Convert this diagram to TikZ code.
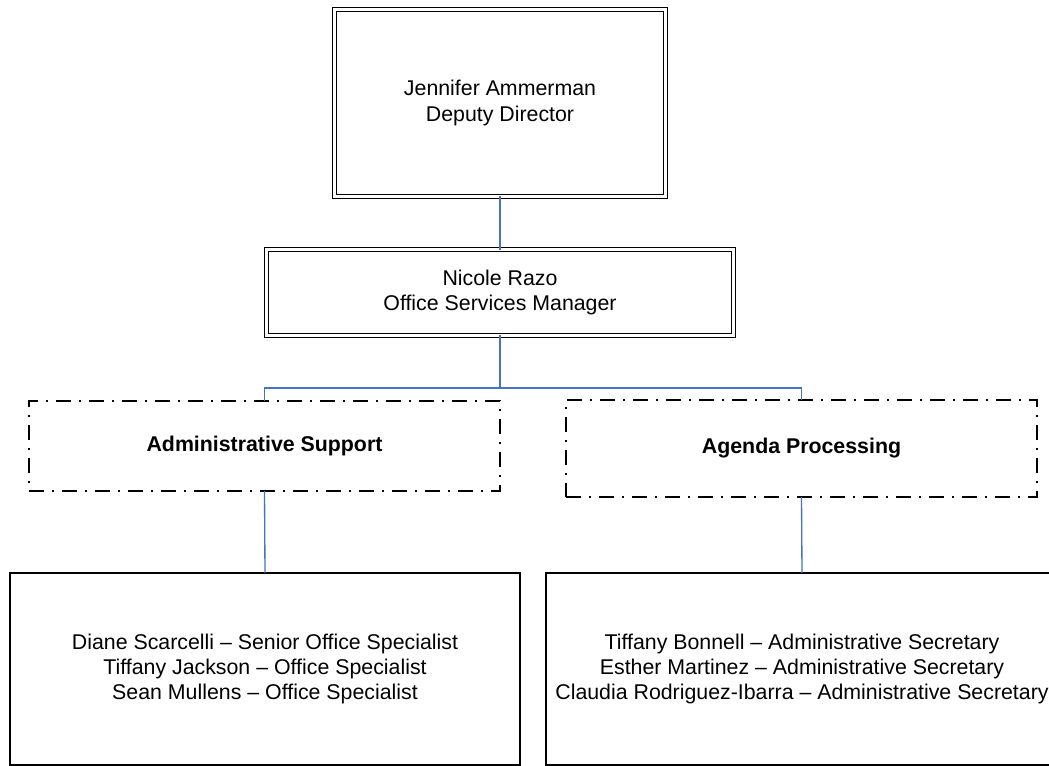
\documentclass[tikz,border=0pt]{standalone}
\usepackage{fontspec}
\setmainfont{Liberation Sans}
\begin{document}
\begin{tikzpicture}[x=0.75pt,y=-0.75pt,
  every node/.style={inner sep=0pt,outer sep=0pt,align=center,font=\fontsize{16pt}{19pt}\selectfont},
  dblbox/.style={draw=black,line width=0.95pt,double=white,double distance=2.1pt,rectangle},
  unitbox/.style={draw=black,line width=1pt,dash pattern=on 11.25pt off 6pt on 1.5pt off 6pt,rectangle,font=\fontsize{16pt}{19pt}\selectfont\bfseries},
  staffbox/.style={draw=black,line width=1pt,rectangle},
  link/.style={draw={rgb,255:red,68;green,114;blue,196},line width=1pt}]
\useasboundingbox (0,0) rectangle (1049,766);
\node[dblbox,minimum width=330.7*0.75pt,minimum height=186.7*0.75pt] (dir) at (500,103) {Jennifer Ammerman\\Deputy Director};
\node[dblbox,minimum width=466.7*0.75pt,minimum height=85.7*0.75pt] (mgr) at (500,292.5) {Nicole Razo\\Office Services Manager};
\node[unitbox,minimum width=471*0.75pt,minimum height=90*0.75pt] (adm) at (264.5,446) {Administrative Support};
\node[unitbox,minimum width=471*0.75pt,minimum height=97*0.75pt] (agp) at (801.5,448.5) {Agenda Processing};
\node[staffbox,minimum width=510*0.75pt,minimum height=192*0.75pt] (sadm) at (265,669) {Diane Scarcelli – Senior Office Specialist\\Tiffany Jackson – Office Specialist\\Sean Mullens – Office Specialist};
\node[staffbox,minimum width=512*0.75pt,minimum height=192*0.75pt] (sagp) at (802,669) {Tiffany Bonnell – Administrative Secretary\\Esther Martinez – Administrative Secretary\\Claudia Rodriguez-Ibarra – Administrative Secretary};
\coordinate (bus) at (500,388);
\draw[link] (dir.south) -- (mgr.north);
\draw[link] (mgr.south) -- (bus);
\draw[link] (bus) -| (adm.north);
\draw[link] (bus) -| (agp.north);
\draw[link] (adm.south) -- (sadm.north);
\draw[link] (agp.south) -- (sagp.north);
\end{tikzpicture}
\end{document}
